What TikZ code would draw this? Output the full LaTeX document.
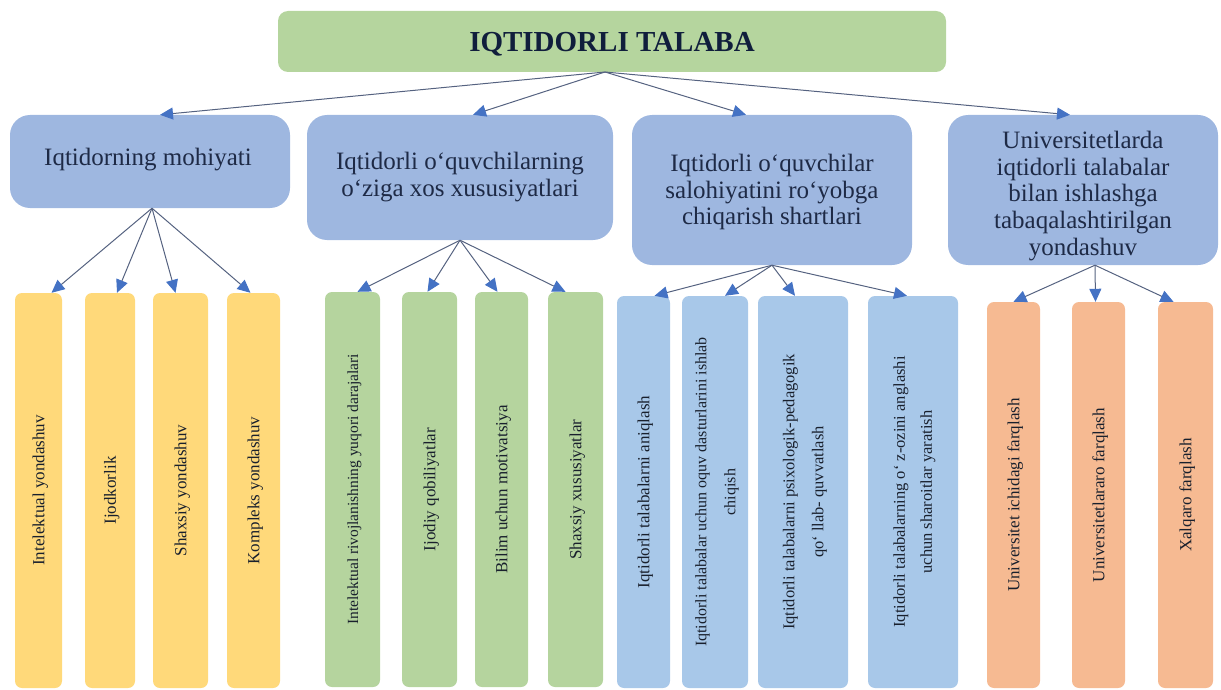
\documentclass[tikz,border=0pt]{standalone}
\usepackage{fontspec}
\setmainfont{Liberation Serif}
\usetikzlibrary{arrows.meta}
\definecolor{rootfill}{RGB}{181,213,158}
\definecolor{lvlfill}{RGB}{158,183,224}
\definecolor{yelfill}{RGB}{255,217,122}
\definecolor{grnfill}{RGB}{181,212,158}
\definecolor{bluefill}{RGB}{168,200,233}
\definecolor{orgfill}{RGB}{246,186,146}
\definecolor{linecol}{RGB}{85,98,128}
\definecolor{tipblue}{RGB}{68,114,196}
\definecolor{txtnavy}{RGB}{30,42,70}
\definecolor{bartxt}{RGB}{25,32,45}
\definecolor{roottxt}{RGB}{16,30,60}
\tikzset{
  rootbox/.style={fill=rootfill, draw=none, rounded corners=10pt, inner sep=0pt},
  roottext/.style={inner sep=0pt, font=\fontsize{29}{34}\selectfont\bfseries, text=roottxt},
  lvlbox/.style={fill=lvlfill, draw=none, rounded corners=20pt, inner sep=0pt},
  lvltext/.style={inner sep=0pt, align=center, font=\fontsize{25}{26.7}\selectfont, text=txtnavy},
  bar/.style={draw=none, rounded corners=7pt, inner sep=0pt,
    font=\fontsize{17}{29}\selectfont, text=bartxt},
  conn/.style={draw=linecol, line width=1pt,
    -{Triangle[length=13pt,width=12pt,color=tipblue,fill=tipblue]}}
}
\newcommand{\vtext}[1]{\rotatebox{90}{\begin{tabular}{@{}c@{}}#1\end{tabular}}}
\begin{document}
\begin{tikzpicture}[x=1pt,y=-1pt]
\useasboundingbox (0,0) rectangle (1221,690);
% root
\node[rootbox, minimum width=668pt, minimum height=61pt] (root) at (612,41.5) {};
\node[roottext] (roott) at (612,44) {IQTIDORLI TALABA};
\coordinate (rs) at (605,72);
% level 1
\node[lvlbox, minimum width=280pt, minimum height=93pt] (a) at (150,161.5) {};
\node[lvltext] (at) at (148,160) {Iqtidorning mohiyati};
\node[lvlbox, minimum width=306pt, minimum height=125pt] (b) at (460,177.5) {};
\node[lvltext] (bt) at (460,177) {Iqtidorli o‘quvchilarning\\o‘ziga xos xususiyatlari};
\node[lvlbox, minimum width=280pt, minimum height=150pt] (c) at (772,190) {};
\node[lvltext] (ct) at (772,192) {Iqtidorli o‘quvchilar\\salohiyatini ro‘yobga\\chiqarish shartlari};
\node[lvlbox, minimum width=270pt, minimum height=150pt] (d) at (1083,190) {};
\node[lvltext] (dt) at (1083,196) {Universitetlarda\\iqtidorli talabalar\\bilan ishlashga\\tabaqalashtirilgan\\yondashuv};
% bars: yellow
\node[bar, fill=yelfill, minimum width=47pt, minimum height=395pt] (y1) at (38.5,490.5) {\vtext{Intelektual yondashuv}};
\node[bar, fill=yelfill, minimum width=50pt, minimum height=395pt] (y2) at (110,490.5) {\vtext{Ijodkorlik}};
\node[bar, fill=yelfill, minimum width=55pt, minimum height=395pt] (y3) at (180.5,490.5) {\vtext{Shaxsiy yondashuv}};
\node[bar, fill=yelfill, minimum width=53pt, minimum height=395pt] (y4) at (253.5,490.5) {\vtext{Kompleks yondashuv}};
% bars: green
\node[bar, fill=grnfill, minimum width=55pt, minimum height=395pt, font=\fontsize{15.5}{28}\selectfont] (g1) at (352.5,489.5) {\vtext{Intelektual rivojlanishning yuqori darajalari}};
\node[bar, fill=grnfill, minimum width=55pt, minimum height=395pt] (g2) at (429.5,489.5) {\vtext{Ijodiy qobiliyatlar}};
\node[bar, fill=grnfill, minimum width=53pt, minimum height=395pt] (g3) at (501.5,489.5) {\vtext{Bilim uchun motivatsiya}};
\node[bar, fill=grnfill, minimum width=55pt, minimum height=395pt] (g4) at (575.5,489.5) {\vtext{Shaxsiy xususiyatlar}};
% bars: blue
\node[bar, fill=bluefill, minimum width=53pt, minimum height=392pt] (l1) at (643.5,492) {\vtext{Iqtidorli talabalarni aniqlash}};
\node[bar, fill=bluefill, minimum width=66pt, minimum height=392pt, font=\fontsize{16}{29}\selectfont] (l2) at (715,492) {\vtext{Iqtidorli talabalar uchun oquv dasturlarini ishlab\\chiqish}};
\node[bar, fill=bluefill, minimum width=90pt, minimum height=392pt, font=\fontsize{16.5}{29}\selectfont] (l3) at (803,492) {\vtext{Iqtidorli talabalarni psixologik-pedagogik\\qo‘ llab- quvvatlash}};
\node[bar, fill=bluefill, minimum width=90pt, minimum height=392pt, font=\fontsize{16.5}{27}\selectfont] (l4) at (913,492) {\vtext{Iqtidorli talabalarning o‘ z-ozini anglashi\\uchun sharoitlar yaratish}};
% bars: orange
\node[bar, fill=orgfill, minimum width=53pt, minimum height=386pt] (o1) at (1013.5,495) {\vtext{Universitet ichidagi farqlash}};
\node[bar, fill=orgfill, minimum width=53pt, minimum height=386pt] (o2) at (1098.5,495) {\vtext{Universitetlararo farqlash}};
\node[bar, fill=orgfill, minimum width=55pt, minimum height=386pt] (o3) at (1185.5,495) {\vtext{Xalqaro farqlash}};
% connectors root -> level 1
\draw[conn] (rs) -- ([xshift=10pt]a.north);
\draw[conn] (rs) -- ([xshift=13pt]b.north);
\draw[conn] (rs) -- ([xshift=-26pt]c.north);
\draw[conn] (rs) -- ([xshift=-13pt]d.north);
% a -> yellow
\coordinate (as) at ([xshift=2pt]a.south);
\draw[conn] (as) -- ([xshift=13pt]y1.north);
\draw[conn] (as) -- ([xshift=7pt]y2.north);
\draw[conn] (as) -- ([xshift=-5pt]y3.north);
\draw[conn] (as) -- ([xshift=-3pt]y4.north);
% b -> green
\draw[conn] (b.south) -- ([xshift=5pt]g1.north);
\draw[conn] (b.south) -- ([xshift=-2pt]g2.north);
\draw[conn] (b.south) -- ([xshift=-4pt]g3.north);
\draw[conn] (b.south) -- ([xshift=-10pt]g4.north);
% c -> blue
\draw[conn] (c.south) -- ([xshift=11pt]l1.north);
\draw[conn] (c.south) -- ([xshift=10pt]l2.north);
\draw[conn] (c.south) -- ([xshift=-8pt]l3.north);
\draw[conn] (c.south) -- ([xshift=-6pt]l4.north);
% d -> orange
\coordinate (ds) at ([xshift=12pt]d.south);
\draw[conn] (ds) -- (o1.north);
\draw[conn] (ds) -- ([xshift=-3pt]o2.north);
\draw[conn] (ds) -- ([xshift=-12pt]o3.north);
\end{tikzpicture}
\end{document}
